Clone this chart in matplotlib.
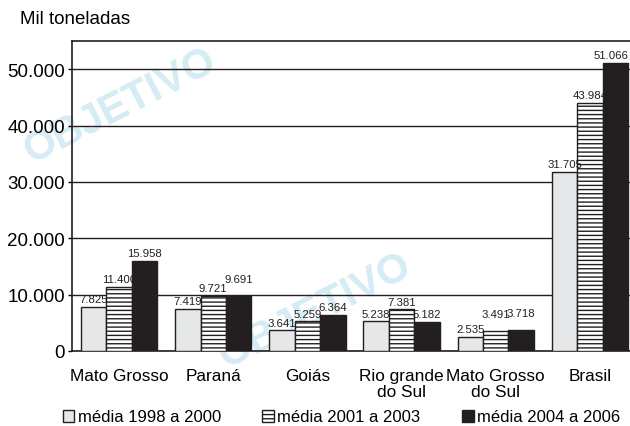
import matplotlib.pyplot as plt
import numpy as np

plt.rcParams['font.family'] = ['Liberation Sans', 'DejaVu Sans']

categories = ["Mato Grosso", "Paraná", "Goiás", "Rio grande\ndo Sul", "Mato Grosso\ndo Sul", "Brasil"]
series_names = ["média 1998 a 2000", "média 2001 a 2003", "média 2004 a 2006"]
media_1998_2000 = [7825, 7419, 3641, 5238, 2535, 31705]
media_2001_2003 = [11400, 9721, 5259, 7381, 3491, 43984]
media_2004_2006 = [15958, 9691, 6364, 5182, 3718, 51066]
yticks = [0, 10000, 20000, 30000, 40000, 50000]


def fmt(v):
    # brazilian thousands separator
    return f"{v:,}".replace(",", ".")


fig = plt.figure(figsize=(6.3, 4.27), dpi=100)
ax = fig.add_axes([72 / 630, 75 / 427, 565 / 630, 310 / 427])
ax.patch.set_alpha(0)

# faint watermark, kept behind the axes
for x, y in [(0.19, 0.75), (0.5, 0.27)]:
    fig.text(x, y, "OBJETIVO", rotation=27, fontsize=30, fontweight='bold',
             color='#d6ecf4', ha='center', va='center', zorder=-1)

x = np.arange(len(categories))
w = 0.27
styles = [
    dict(color='#e6e7e8', edgecolor='#231f20', hatch=None),
    dict(color='white', edgecolor='#231f20', hatch='----'),
    dict(color='#231f20', edgecolor='#231f20', hatch=None),
]
data = [media_1998_2000, media_2001_2003, media_2004_2006]
last = len(categories) - 1
for i, (vals, st, name) in enumerate(zip(data, styles, series_names)):
    pos = x + (i - 1) * w
    ax.bar(pos, vals, w, facecolor=st['color'], edgecolor=st['edgecolor'],
           hatch=st['hatch'], linewidth=1.0, label=name, zorder=3)
    for j, (p, v) in enumerate(zip(pos, vals)):
        off = 500
        # lift a label when the neighbour bar is about as tall (as in the original)
        if i > 0 and abs(data[i - 1][j] - v) < 1000:
            off = 2200
        ha = 'center'
        if j == last and i == len(data) - 1:
            # keep the rightmost label inside the figure
            p, ha = p + w / 2, 'right'
        ax.text(p, v + off, fmt(v), ha=ha, va='bottom', fontsize=8.2,
                color='#231f20', zorder=4)

ax.set_xlim(-0.5, 5.5)
ax.set_ylim(0, 55000)
ax.set_yticks(yticks)
ax.set_yticklabels([fmt(t) for t in yticks], fontsize=13.5)
ax.yaxis.grid(True, color='#231f20', linewidth=1.0, zorder=1)
ax.set_axisbelow(True)
ax.set_xticks(x)
ax.set_xticklabels(categories, fontsize=12.4, linespacing=1.1)
ax.tick_params(axis='x', length=0, pad=12)
ax.tick_params(axis='y', length=3, width=1, pad=2)
for s in ax.spines.values():
    s.set_color('#231f20')
    s.set_linewidth(1.2)

fig.text(20 / 630, 1 - 20 / 427, "Mil toneladas", fontsize=13.5, va='center', ha='left')

fig.legend(loc='center', bbox_to_anchor=(0.542, 1 - 418 / 427), ncol=3, frameon=False,
           fontsize=12, handlelength=0.7, handleheight=0.7, handletextpad=0.2,
           columnspacing=2.5, borderaxespad=0)

fig.savefig("out.png", dpi=100)
